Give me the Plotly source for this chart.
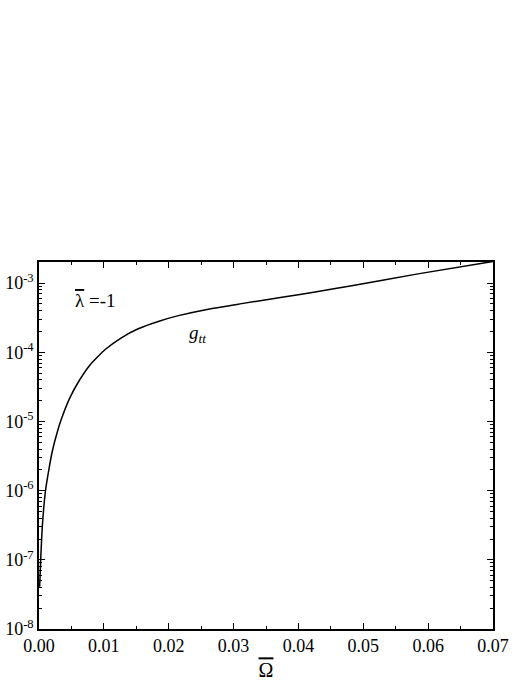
import numpy as np
import plotly.graph_objects as go

# curve: Omega bar vs g_tt (log scale)
omega = [0.0001, 0.00026, 0.00051, 0.001, 0.00155, 0.00205, 0.0028, 0.0034,
         0.0047, 0.006, 0.0078, 0.0102, 0.0127, 0.0153, 0.0185, 0.0215,
         0.0259, 0.031, 0.0377, 0.0428, 0.048, 0.0582, 0.07]
log_gtt = [-7.39, -7.0, -6.52, -6.0, -5.68, -5.43, -5.16, -4.98,
           -4.67, -4.44, -4.19, -3.96, -3.79, -3.66, -3.55, -3.47,
           -3.38, -3.30, -3.20, -3.125, -3.04, -2.87, -2.687]
gtt = [10 ** v for v in log_gtt]

x_ticks = [0.0, 0.01, 0.02, 0.03, 0.04, 0.05, 0.06, 0.07]
x_labels = ["0.00", "0.01", "0.02", "0.03", "0.04", "0.05", "0.06", "0.07"]
x_minor = [0.005, 0.015, 0.025, 0.035, 0.045, 0.055, 0.065]
y_exps = [-8, -7, -6, -5, -4, -3]

y_ticks = [10.0 ** e for e in y_exps]
y_labels = ["10<sup>%d</sup>" % e for e in y_exps]
y_minor = [m * 10.0 ** e for e in y_exps for m in range(2, 10)]

x_range = [0, 0.07]
y_range = [-8, np.log10(2.02e-3)]
font = "Times New Roman, Liberation Serif, DejaVu Serif, serif"
bar = '<span style="text-decoration:overline">%s</span>'

fig = go.Figure()
fig.add_trace(go.Scatter(x=omega, y=gtt, mode="lines",
                         line=dict(color="black", width=1.5, shape="spline", smoothing=0.5),
                         showlegend=False))
# dummy trace so the minor-tick overlay axes get drawn
fig.add_trace(go.Scatter(x=[None], y=[None], xaxis="x2", yaxis="y2",
                         mode="lines", showlegend=False, hoverinfo="skip"))

fig.add_annotation(x=0.0087, y=np.log10(5.7e-4), text=bar % "λ" + " =-1", showarrow=False,
                   font=dict(size=19, color="black", family=font))
fig.add_annotation(x=0.0245, y=np.log10(1.85e-4), text="<i>g<sub>tt</sub></i>", showarrow=False,
                   font=dict(size=19, color="black", family=font))

fig.update_layout(
    width=529, height=685,
    margin=dict(l=39, r=36, t=262, b=56),
    plot_bgcolor="white", paper_bgcolor="white",
    font=dict(family=font, color="black"),
    xaxis=dict(range=x_range, tickvals=x_ticks, ticktext=x_labels,
               ticks="inside", ticklen=6, tickwidth=1, tickcolor="black",
               showline=True, linecolor="black", linewidth=1.5, mirror="ticks",
               showgrid=False, zeroline=False, automargin=False,
               title=dict(text=bar % "Ω", font=dict(size=20, family=font), standoff=8),
               tickfont=dict(size=18, family=font, color="black")),
    yaxis=dict(type="log", range=y_range, tickvals=y_ticks, ticktext=y_labels,
               ticks="inside", ticklen=6, tickwidth=1, tickcolor="black",
               showline=True, linecolor="black", linewidth=1.5, mirror="ticks",
               showgrid=False, zeroline=False, automargin=False,
               tickfont=dict(size=18, family=font, color="black")),
    xaxis2=dict(overlaying="x", anchor="y", range=x_range, tickvals=x_minor,
                ticks="inside", ticklen=3, tickwidth=1, tickcolor="black",
                showticklabels=False, mirror="ticks", showline=False,
                showgrid=False, zeroline=False),
    yaxis2=dict(overlaying="y", anchor="x", type="log", range=y_range, tickvals=y_minor,
                ticks="inside", ticklen=3, tickwidth=1, tickcolor="black",
                showticklabels=False, mirror="ticks", showline=False,
                showgrid=False, zeroline=False),
)

fig.write_html("out.html", config={"displayModeBar": False},
               post_script="document.body.style.margin='0';")
